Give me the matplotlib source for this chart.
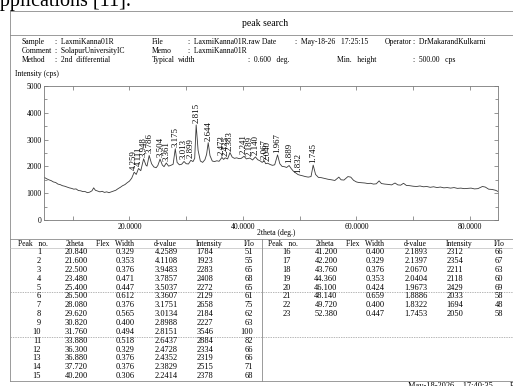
import matplotlib
matplotlib.use("Agg")
import matplotlib.pyplot as plt
from matplotlib.ticker import MultipleLocator, FixedLocator, FixedFormatter

plt.rcParams['font.family'] = ['Liberation Serif', 'DejaVu Serif']

# peak table
peak_no = list(range(1, 24))
two_theta = [20.840, 21.600, 22.500, 23.480, 25.400, 26.500, 28.080, 29.620, 30.820, 31.760,
             33.880, 36.300, 36.880, 37.720, 40.200, 41.200, 42.200, 43.760, 44.360, 46.100,
             48.140, 49.720, 52.380]
flex_width = [0.329, 0.353, 0.376, 0.471, 0.447, 0.612, 0.376, 0.565, 0.400, 0.494,
              0.518, 0.329, 0.376, 0.376, 0.306, 0.400, 0.329, 0.376, 0.353, 0.424,
              0.659, 0.400, 0.447]
d_value = [4.2589, 4.1108, 3.9483, 3.7857, 3.5037, 3.3607, 3.1751, 3.0134, 2.8988, 2.8151,
           2.6437, 2.4728, 2.4352, 2.3829, 2.2414, 2.1893, 2.1397, 2.0670, 2.0404, 1.9673,
           1.8886, 1.8322, 1.7453]
intensity = [1784, 1923, 2283, 2408, 2272, 2129, 2658, 2184, 2227, 3546,
             2884, 2334, 2319, 2515, 2378, 2312, 2354, 2211, 2118, 2429,
             2033, 1694, 2050]
i_io = [51, 55, 65, 68, 65, 61, 75, 62, 63, 100, 82, 66, 66, 71, 68,
        66, 67, 63, 60, 69, 58, 48, 58]

# scan (estimated from the plotted trace)
scan_2theta = [5.0, 5.4, 5.8, 6.2, 6.6, 7.0, 7.4, 7.8, 8.2, 8.6, 9.0, 9.4, 9.8, 10.2, 10.6,
               11.0, 11.4, 11.8, 12.2, 12.6, 13.0, 13.4, 13.7, 14.0, 14.4, 14.8, 15.2, 15.6,
               16.0, 16.4, 16.8, 17.2, 17.6, 18.0, 18.4, 18.8, 19.2, 19.6, 20.0, 20.4, 20.84,
               21.2, 21.6, 22.0, 22.5, 22.9, 23.1, 23.48, 23.9, 24.3, 24.7, 25.0, 25.4, 25.8,
               26.1, 26.5, 26.9, 27.3, 27.7, 28.08, 28.4, 28.8, 29.2, 29.62, 30.0, 30.4, 30.82,
               31.2, 31.5, 31.76, 32.1, 32.5, 32.9, 33.3, 33.6, 33.88, 34.2, 34.6, 35.0, 35.4,
               35.8, 36.3, 36.6, 36.88, 37.3, 37.72, 38.1, 38.5, 38.9, 39.3, 39.7, 40.2, 40.6,
               41.2, 41.7, 42.2, 42.6, 43.0, 43.4, 43.76, 44.0, 44.36, 44.8, 45.2, 45.6, 46.1,
               46.5, 46.9, 47.3, 47.7, 48.14, 48.5, 48.9, 49.3, 49.72, 50.1, 50.5, 51.0, 51.5,
               52.0, 52.38, 52.8, 53.3, 53.8, 54.4, 55.0, 55.6, 56.2, 56.9, 57.3, 57.8, 58.5,
               59.0, 59.5, 60.0, 60.4, 61.0, 61.5, 62.0, 62.5, 63.0, 63.5, 64.0, 64.4, 65.0,
               65.5, 66.2, 66.8, 67.3, 67.8, 68.3, 68.8, 69.4, 70.0, 70.6, 71.2, 71.8, 72.4,
               73.0, 73.6, 74.2, 74.8, 75.4, 76.0, 76.6, 77.2, 77.8, 78.4, 79.0, 79.6, 80.2,
               80.8, 81.4, 82.2, 82.7, 83.3, 83.9, 84.5, 85.0]
scan_cps = [1590, 1540, 1500, 1470, 1420, 1400, 1340, 1320, 1280, 1260, 1230, 1200, 1180, 1150, 1160,
            1100, 1090, 1060, 1060, 1020, 1040, 1090, 1200, 1110, 1080, 1050, 1070, 1030,
            1050, 1020, 1050, 1080, 1110, 1170, 1220, 1280, 1320, 1390, 1450, 1560, 1784,
            1700, 1923, 1840, 2283, 2050, 2010, 2408, 2100, 1980, 1950, 2030, 2272, 2050,
            1990, 2129, 2010, 2040, 2080, 2658, 2150, 2060, 2080, 2184, 2100, 2090, 2227,
            2180, 2300, 3546, 2600, 2200, 2150, 2250, 2450, 2884, 2400, 2200, 2180, 2210,
            2190, 2334, 2260, 2319, 2280, 2515, 2350, 2300, 2320, 2290, 2300, 2378, 2280,
            2312, 2240, 2354, 2250, 2210, 2150, 2211, 2100, 2118, 2070, 2040, 2060, 2429,
            2100, 2000, 1990, 1960, 2033, 1920, 1820, 1760, 1694, 1670, 1650, 1620, 1600,
            1620, 2050, 1700, 1590, 1580, 1550, 1520, 1500, 1475, 1600, 1500, 1490, 1620,
            1600, 1480, 1420, 1400, 1390, 1380, 1360, 1370, 1340, 1350, 1460, 1360, 1340,
            1330, 1310, 1380, 1310, 1300, 1370, 1290, 1280, 1260, 1250, 1270, 1240, 1250,
            1220, 1240, 1210, 1230, 1200, 1210, 1190, 1210, 1180, 1190, 1170, 1180, 1190,
            1160, 1170, 1250, 1230, 1150, 1140, 1110, 1060]

W, H = 513, 386
fig = plt.figure(figsize=(W / 100, H / 100), dpi=100)

# page layer in pixel coordinates
pg = fig.add_axes([0, 0, 1, 1], zorder=0)
pg.set_xlim(0, W)
pg.set_ylim(H, 0)
pg.axis("off")

line_kw = dict(color="#8a8a8a", lw=0.6)
pg.text(-9, 6, "applications [11].", fontsize=14.5, va="baseline", ha="left")
pg.plot([10, W], [11, 11], **line_kw)
pg.plot([10, 10], [11, 381], **line_kw)
pg.plot([10, W], [35, 35], **line_kw)
pg.text(265, 23, "peak search", fontsize=7, ha="center", va="center")

hs = 5.5
header = [
    (42, [(22, "Sample"), (55, ":  LaxmiKanna01R"), (152, "File"),
          (188, ":  LaxmiKanna01R.raw Date"), (295, ":  May-18-26   17:25:15"),
          (385, "Operator"), (413, ":  DrMakarandKulkarni")]),
    (51, [(22, "Comment"), (55, ":  SolapurUniversityIC"), (152, "Memo"),
          (188, ":  LaxmiKanna01R")]),
    (60, [(22, "Method"), (55, ":  2nd  differential"), (152, "Typical"), (178, "width"),
          (248, ":  0.600   deg."), (337, "Min.   height"), (413, ":  500.00   cps")]),
]
for y, items in header:
    for x, s in items:
        pg.text(x, y, s, fontsize=hs, ha="left", va="center")

pg.text(15, 74, "Intensity (cps)", fontsize=5.5, ha="left", va="center")
pg.text(276, 233, "2theta (deg.)", fontsize=5.5, ha="center", va="center")

# table
pg.plot([10, W], [239, 239], **line_kw)
pg.plot([10, W], [248, 248], color="#bdbdbd", lw=0.5)
pg.plot([262, 262], [239, 381], **line_kw)
pg.plot([10, W], [381, 381], **line_kw)
for y in (292.3, 336.5):
    pg.plot([10, W], [y, y], color="#9a9a9a", lw=0.5, ls=(0, (2, 1.5)))

ts = 6
for off in (0, 250):
    pg.text(18 + off, 244.5, "Peak   no.", fontsize=hs, ha="left", va="center")
    pg.text(75 + off, 244.5, "2theta", fontsize=hs, ha="center", va="center")
    pg.text(115 + off, 244.5, "Flex   Width", fontsize=hs, ha="center", va="center")
    pg.text(165 + off, 244.5, "d-value", fontsize=hs, ha="center", va="center")
    pg.text(209 + off, 244.5, "Intensity", fontsize=hs, ha="center", va="center")
    pg.text(249 + off, 244.5, "I/Io", fontsize=hs, ha="center", va="center")

for i in range(len(peak_no)):
    off = 0 if i < 15 else 250
    y = 252.3 + (i % 15) * 8.84
    pg.text(41 + off, y, str(peak_no[i]), fontsize=ts, ha="right", va="center")
    pg.text(76 + off, y, f"{two_theta[i]:.3f}", fontsize=ts, ha="center", va="center")
    pg.text(125 + off, y, f"{flex_width[i]:.3f}", fontsize=ts, ha="center", va="center")
    pg.text(166 + off, y, f"{d_value[i]:.4f}", fontsize=ts, ha="center", va="center")
    pg.text(205 + off, y, str(intensity[i]), fontsize=ts, ha="center", va="center")
    pg.text(253 + off, y, str(i_io[i]), fontsize=ts, ha="right", va="center")

pg.text(408, 386, "May-18-2026    17:40:35        Page 1", fontsize=ts, ha="left", va="center")

# chart
ax = fig.add_axes([44.3 / W, 1 - 220 / H, (498.3 - 44.3) / W, (220 - 86) / H], zorder=1)
ax.patch.set_alpha(0)
ax.plot(scan_2theta, scan_cps, color="#3a3a3a", lw=0.6)
for tt, cps, d in zip(two_theta, intensity, d_value):
    ax.annotate(f"{d:.3f}", (tt, cps), xytext=(0, 1.5), textcoords="offset points",
                rotation=90, ha="center", va="bottom", fontsize=6.3)

ax.set_xlim(5, 85)
ax.set_ylim(0, 5000)
ax.xaxis.set_major_locator(FixedLocator([10, 20, 30, 40, 50, 60, 70, 80]))
ax.xaxis.set_major_formatter(FixedFormatter(["", "20.0000", "", "40.0000", "",
                                             "60.0000", "", "80.0000"]))
ax.yaxis.set_major_locator(MultipleLocator(1000))
ax.yaxis.set_minor_locator(MultipleLocator(500))
ax.tick_params(which="both", direction="in", top=True, right=True,
               labelsize=5.5, color="#6a6a6a", width=0.5, pad=2)
ax.tick_params(which="major", length=3)
ax.tick_params(which="minor", length=2)
for sp in ax.spines.values():
    sp.set_color("#7a7a7a")
    sp.set_linewidth(0.6)

fig.savefig("out.png", dpi=100)
